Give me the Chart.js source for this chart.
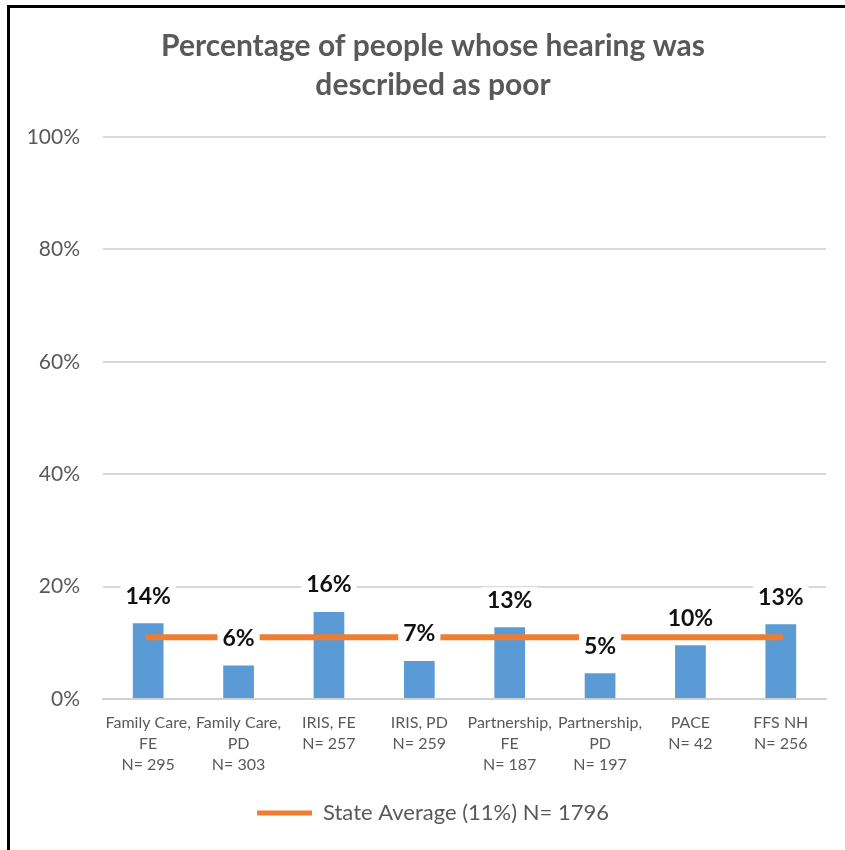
<!DOCTYPE html>
<html>
<head>
<meta charset="utf-8">
<script src="https://cdn.jsdelivr.net/npm/chart.js@4"></script>
<style>
  body { margin: 0; background: #fff; }
  #wrap { position: relative; width: 845px; height: 850px; }
  #frame {
    position: absolute; left: 7px; top: 5px; right: 0; bottom: 0;
    border-left: 3px solid #000; border-top: 3px solid #000;
    pointer-events: none;
  }
</style>
</head>
<body>
<div id="wrap">
  <canvas id="grafico" width="845" height="850"></canvas>
  <div id="frame"></div>
</div>
<script>
const categorias = [
  ["Family Care,", "FE", "N= 295"],
  ["Family Care,", "PD", "N= 303"],
  ["IRIS, FE", "N= 257"],
  ["IRIS, PD", "N= 259"],
  ["Partnership,", "FE", "N= 187"],
  ["Partnership,", "PD", "N= 197"],
  ["PACE", "N= 42"],
  ["FFS NH", "N= 256"]
];
const valores = [13.5, 6.0, 15.5, 6.8, 12.8, 4.6, 9.6, 13.3];
const mediaEstado = [11, 11, 11, 11, 11, 11, 11, 11];
const legendaMedia = "State Average (11%) N= 1796";
const titulo = ["Percentage of people whose hearing was", "described as poor"];

const fonte = "Lato, 'Open Sans', sans-serif";
const cinza = "#595959";

// rotulos das barras com fundo branco (cobre a linha laranja)
const rotulos = {
  id: "rotulos",
  afterDatasetsDraw(chart) {
    const ctx = chart.ctx;
    const meta = chart.getDatasetMeta(0);
    ctx.save();
    ctx.font = "bold 23px " + fonte;
    ctx.textAlign = "center";
    ctx.textBaseline = "middle";
    meta.data.forEach((bar, i) => {
      const texto = Math.round(valores[i]) + "%";
      const w = ctx.measureText(texto).width + 10;
      const y = bar.y - 27;
      ctx.fillStyle = "#fff";
      ctx.fillRect(bar.x - w / 2, y - 13, w, 26);
      ctx.fillStyle = "#111";
      ctx.fillText(texto, bar.x, y);
    });
    ctx.restore();
  }
};

new Chart(document.getElementById("grafico"), {
  data: {
    labels: categorias,
    datasets: [
      {
        type: "bar",
        label: "Percentage",
        data: valores,
        backgroundColor: "#5B9BD5",
        barPercentage: 0.34,
        categoryPercentage: 1,
        order: 1
      },
      {
        type: "line",
        label: legendaMedia,
        data: mediaEstado,
        borderColor: "#ED7D31",
        backgroundColor: "#ED7D31",
        borderWidth: 6,
        borderCapStyle: "round",
        pointRadius: 0,
        order: 0
      }
    ]
  },
  options: {
    responsive: false,
    animation: false,
    layout: { padding: { left: 22, right: 1, top: 14, bottom: 16 } },
    plugins: {
      title: {
        display: true,
        text: titulo,
        color: cinza,
        font: { family: fonte, size: 30, weight: "bold", lineHeight: 1.3 },
        padding: { top: 13, bottom: 32 }
      },
      legend: {
        position: "bottom",
        labels: {
          color: cinza,
          font: { family: fonte, size: 22 },
          boxWidth: 55,
          boxHeight: 5,
          padding: 14,
          generateLabels: () => [{
            text: legendaMedia,
            fillStyle: "#ED7D31",
            strokeStyle: "#ED7D31",
            lineWidth: 0,
            hidden: false,
            datasetIndex: 1,
            fontColor: cinza
          }]
        }
      },
      tooltip: { enabled: false }
    },
    scales: {
      x: {
        grid: { display: false, drawTicks: false },
        border: { color: "#d0d0d0", width: 2 },
        ticks: {
          color: cinza,
          font: { family: fonte, size: 16, lineHeight: 1.31 },
          maxRotation: 0,
          autoSkip: false,
          padding: 13
        }
      },
      y: {
        min: 0,
        max: 100,
        afterFit: (escala) => { escala.width = 81; },
        grid: { color: "#d9d9d9", lineWidth: 2, drawTicks: false },
        border: { display: false },
        ticks: {
          stepSize: 20,
          color: cinza,
          font: { family: fonte, size: 21 },
          padding: 23,
          callback: (v) => v + "%"
        }
      },
      // margem direita vazia, como no original
      margem: {
        position: "right",
        display: true,
        afterFit: (escala) => { escala.width = 18; },
        grid: { display: false, drawTicks: false },
        border: { display: false },
        ticks: { display: false }
      }
    }
  },
  plugins: [rotulos]
});
</script>
</body>
</html>
